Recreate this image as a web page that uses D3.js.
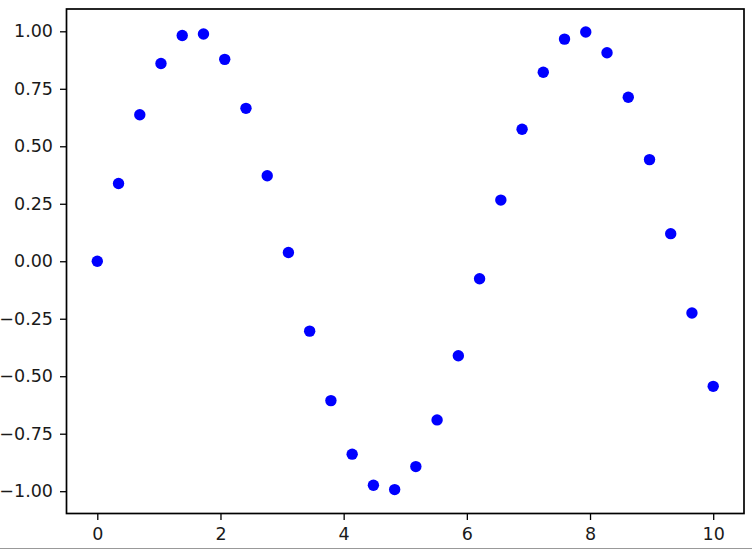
<!DOCTYPE html>
<html><head><meta charset="utf-8">
<script src="https://cdn.jsdelivr.net/npm/d3@7"></script>
<style>html,body{margin:0;padding:0;background:#fff;}svg{display:block;}</style>
</head><body>
<svg id="c" width="752" height="549"></svg>
<script>
const xValues = [0, 0.345, 0.690, 1.034, 1.379, 1.724, 2.069, 2.414, 2.759, 3.103, 3.448, 3.793, 4.138, 4.483, 4.828, 5.172, 5.517, 5.862, 6.207, 6.552, 6.897, 7.241, 7.586, 7.931, 8.276, 8.621, 8.966, 9.310, 9.655, 10.0];
const yValues = [0, 0.338, 0.637, 0.860, 0.982, 0.988, 0.878, 0.665, 0.372, 0.038, -0.304, -0.606, -0.839, -0.974, -0.993, -0.893, -0.690, -0.411, -0.076, 0.266, 0.574, 0.822, 0.966, 0.997, 0.907, 0.713, 0.442, 0.120, -0.225, -0.544];
const xTicks = [0, 2, 4, 6, 8, 10];
const yTicks = [-1.0, -0.75, -0.5, -0.25, 0, 0.25, 0.5, 0.75, 1.0];

const svg = d3.select("#c");
const L = 66.5, R = 744, T = 9, B = 513.5;
const x = d3.scaleLinear().domain([-0.5, 10.5]).range([L, R]);
const y = d3.scaleLinear().domain([-1.097, 1.097]).range([B, T]);

svg.append("line").attr("x1",0).attr("x2",752).attr("y1",548.5).attr("y2",548.5).attr("stroke","#999").attr("stroke-width",1);

const font = "DejaVu Sans, sans-serif";
const xa = svg.append("g").attr("transform",`translate(0,${B})`)
  .call(d3.axisBottom(x).tickValues(xTicks).tickFormat(d3.format("d")).tickSize(6.5).tickPadding(7.5));
const ya = svg.append("g").attr("transform",`translate(${L},0)`)
  .call(d3.axisLeft(y).tickValues(yTicks).tickFormat(d => d3.format(".2f")(d).replace("-", "\u2212")).tickSize(6.5).tickPadding(7));
[xa, ya].forEach(a => {
  a.select(".domain").remove();
  a.selectAll(".tick line").attr("stroke","#000").attr("stroke-width",1.3);
  a.selectAll(".tick text").attr("font-family",font).attr("font-size",17.5).attr("fill","#1a1a1a");
});

svg.append("g").selectAll("circle").data(xValues.map((v,i)=>[v,yValues[i]])).join("circle")
  .attr("cx", d => x(d[0])).attr("cy", d => y(d[1])).attr("r", 5.7).attr("fill", "#0000ff");

svg.append("rect").attr("x",L).attr("y",T).attr("width",R-L).attr("height",B-T)
  .attr("fill","none").attr("stroke","#000").attr("stroke-width",1.7);
</script>
</body></html>
